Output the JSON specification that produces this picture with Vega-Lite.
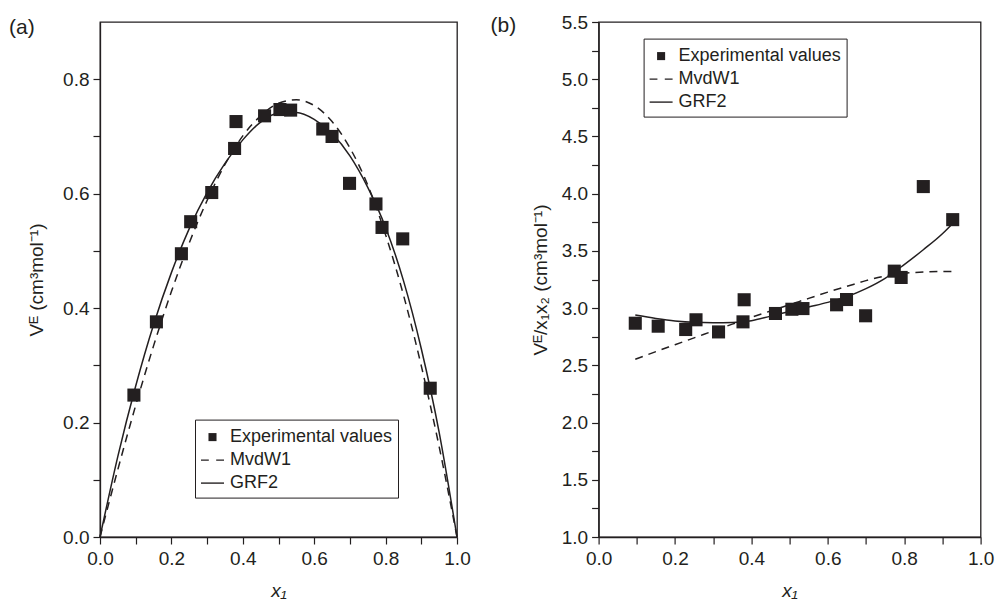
{
  "$schema": "https://vega.github.io/schema/vega-lite/v6.json",
  "background": "white",
  "padding": {"left": 8, "top": 12, "right": 5, "bottom": 0},
  "spacing": 141.6,
  "bounds": "flush",
  "config": {
    "font": "Liberation Sans",
    "view": {"stroke": "#231f20", "strokeWidth": 1.3},
    "axis": {
      "grid": false,
      "domainColor": "#231f20",
      "domainWidth": 1.3,
      "tickColor": "#231f20",
      "tickWidth": 1.2,
      "tickSize": 7,
      "labelColor": "#231f20",
      "titleColor": "#231f20",
      "labelFont": "Liberation Sans",
      "titleFont": "Liberation Sans",
      "labelFontSize": 19,
      "titleFontSize": 19,
      "titleFontWeight": "normal",
      "labelPadding": 4,
      "labelFlush": false,
      "labelOverlap": false
    },
    "title": {"font": "Liberation Sans", "fontSize": 21, "fontWeight": "normal", "color": "#231f20"}
  },
  "datasets": {
    "a": [
      {"x": 0.095, "y": 0.248, "series": "Experimental values"},
      {"x": 0.158, "y": 0.376, "series": "Experimental values"},
      {"x": 0.228, "y": 0.495, "series": "Experimental values"},
      {"x": 0.254, "y": 0.551, "series": "Experimental values"},
      {"x": 0.313, "y": 0.602, "series": "Experimental values"},
      {"x": 0.377, "y": 0.679, "series": "Experimental values"},
      {"x": 0.381, "y": 0.726, "series": "Experimental values"},
      {"x": 0.461, "y": 0.736, "series": "Experimental values"},
      {"x": 0.504, "y": 0.747, "series": "Experimental values"},
      {"x": 0.534, "y": 0.746, "series": "Experimental values"},
      {"x": 0.624, "y": 0.713, "series": "Experimental values"},
      {"x": 0.650, "y": 0.700, "series": "Experimental values"},
      {"x": 0.699, "y": 0.618, "series": "Experimental values"},
      {"x": 0.773, "y": 0.582, "series": "Experimental values"},
      {"x": 0.790, "y": 0.541, "series": "Experimental values"},
      {"x": 0.848, "y": 0.521, "series": "Experimental values"},
      {"x": 0.925, "y": 0.260, "series": "Experimental values"},
      {"x": 0.0, "y": 0.0, "series": "MvdW1"},
      {"x": 0.05, "y": 0.118, "series": "MvdW1"},
      {"x": 0.1, "y": 0.230, "series": "MvdW1"},
      {"x": 0.15, "y": 0.334, "series": "MvdW1"},
      {"x": 0.2, "y": 0.429, "series": "MvdW1"},
      {"x": 0.25, "y": 0.514, "series": "MvdW1"},
      {"x": 0.3, "y": 0.588, "series": "MvdW1"},
      {"x": 0.35, "y": 0.651, "series": "MvdW1"},
      {"x": 0.4, "y": 0.701, "series": "MvdW1"},
      {"x": 0.45, "y": 0.736, "series": "MvdW1"},
      {"x": 0.5, "y": 0.758, "series": "MvdW1"},
      {"x": 0.55, "y": 0.764, "series": "MvdW1"},
      {"x": 0.6, "y": 0.754, "series": "MvdW1"},
      {"x": 0.65, "y": 0.726, "series": "MvdW1"},
      {"x": 0.7, "y": 0.680, "series": "MvdW1"},
      {"x": 0.75, "y": 0.615, "series": "MvdW1"},
      {"x": 0.8, "y": 0.528, "series": "MvdW1"},
      {"x": 0.85, "y": 0.423, "series": "MvdW1"},
      {"x": 0.9, "y": 0.299, "series": "MvdW1"},
      {"x": 0.95, "y": 0.158, "series": "MvdW1"},
      {"x": 1.0, "y": 0.0, "series": "MvdW1"},
      {"x": 0.0, "y": 0.0, "series": "GRF2"},
      {"x": 0.05, "y": 0.141, "series": "GRF2"},
      {"x": 0.1, "y": 0.264, "series": "GRF2"},
      {"x": 0.15, "y": 0.371, "series": "GRF2"},
      {"x": 0.2, "y": 0.462, "series": "GRF2"},
      {"x": 0.25, "y": 0.539, "series": "GRF2"},
      {"x": 0.3, "y": 0.602, "series": "GRF2"},
      {"x": 0.35, "y": 0.653, "series": "GRF2"},
      {"x": 0.4, "y": 0.694, "series": "GRF2"},
      {"x": 0.45, "y": 0.725, "series": "GRF2"},
      {"x": 0.5, "y": 0.741, "series": "GRF2"},
      {"x": 0.55, "y": 0.742, "series": "GRF2"},
      {"x": 0.6, "y": 0.730, "series": "GRF2"},
      {"x": 0.65, "y": 0.705, "series": "GRF2"},
      {"x": 0.7, "y": 0.666, "series": "GRF2"},
      {"x": 0.75, "y": 0.611, "series": "GRF2"},
      {"x": 0.8, "y": 0.541, "series": "GRF2"},
      {"x": 0.85, "y": 0.448, "series": "GRF2"},
      {"x": 0.9, "y": 0.329, "series": "GRF2"},
      {"x": 0.95, "y": 0.183, "series": "GRF2"},
      {"x": 1.0, "y": 0.0, "series": "GRF2"}
    ],
    "b": [
      {"x": 0.096, "y": 2.868, "series": "Experimental values"},
      {"x": 0.156, "y": 2.842, "series": "Experimental values"},
      {"x": 0.228, "y": 2.813, "series": "Experimental values"},
      {"x": 0.255, "y": 2.898, "series": "Experimental values"},
      {"x": 0.314, "y": 2.792, "series": "Experimental values"},
      {"x": 0.381, "y": 3.073, "series": "Experimental values"},
      {"x": 0.378, "y": 2.880, "series": "Experimental values"},
      {"x": 0.463, "y": 2.953, "series": "Experimental values"},
      {"x": 0.506, "y": 2.990, "series": "Experimental values"},
      {"x": 0.535, "y": 2.996, "series": "Experimental values"},
      {"x": 0.623, "y": 3.029, "series": "Experimental values"},
      {"x": 0.649, "y": 3.075, "series": "Experimental values"},
      {"x": 0.699, "y": 2.933, "series": "Experimental values"},
      {"x": 0.774, "y": 3.323, "series": "Experimental values"},
      {"x": 0.792, "y": 3.268, "series": "Experimental values"},
      {"x": 0.850, "y": 4.062, "series": "Experimental values"},
      {"x": 0.927, "y": 3.773, "series": "Experimental values"},
      {"x": 0.096, "y": 2.553, "series": "MvdW1"},
      {"x": 0.15, "y": 2.62, "series": "MvdW1"},
      {"x": 0.2, "y": 2.68, "series": "MvdW1"},
      {"x": 0.25, "y": 2.74, "series": "MvdW1"},
      {"x": 0.3, "y": 2.80, "series": "MvdW1"},
      {"x": 0.35, "y": 2.86, "series": "MvdW1"},
      {"x": 0.4, "y": 2.92, "series": "MvdW1"},
      {"x": 0.45, "y": 2.975, "series": "MvdW1"},
      {"x": 0.5, "y": 3.03, "series": "MvdW1"},
      {"x": 0.55, "y": 3.085, "series": "MvdW1"},
      {"x": 0.6, "y": 3.14, "series": "MvdW1"},
      {"x": 0.65, "y": 3.19, "series": "MvdW1"},
      {"x": 0.7, "y": 3.24, "series": "MvdW1"},
      {"x": 0.75, "y": 3.28, "series": "MvdW1"},
      {"x": 0.8, "y": 3.305, "series": "MvdW1"},
      {"x": 0.85, "y": 3.315, "series": "MvdW1"},
      {"x": 0.9, "y": 3.32, "series": "MvdW1"},
      {"x": 0.927, "y": 3.32, "series": "MvdW1"},
      {"x": 0.096, "y": 2.94, "series": "GRF2"},
      {"x": 0.15, "y": 2.91, "series": "GRF2"},
      {"x": 0.2, "y": 2.888, "series": "GRF2"},
      {"x": 0.25, "y": 2.876, "series": "GRF2"},
      {"x": 0.3, "y": 2.873, "series": "GRF2"},
      {"x": 0.35, "y": 2.875, "series": "GRF2"},
      {"x": 0.4, "y": 2.89, "series": "GRF2"},
      {"x": 0.45, "y": 2.93, "series": "GRF2"},
      {"x": 0.5, "y": 2.97, "series": "GRF2"},
      {"x": 0.55, "y": 3.01, "series": "GRF2"},
      {"x": 0.6, "y": 3.05, "series": "GRF2"},
      {"x": 0.65, "y": 3.10, "series": "GRF2"},
      {"x": 0.7, "y": 3.17, "series": "GRF2"},
      {"x": 0.75, "y": 3.26, "series": "GRF2"},
      {"x": 0.8, "y": 3.38, "series": "GRF2"},
      {"x": 0.85, "y": 3.51, "series": "GRF2"},
      {"x": 0.9, "y": 3.65, "series": "GRF2"},
      {"x": 0.927, "y": 3.74, "series": "GRF2"}
    ]
  },
  "hconcat": [
    {
      "width": 357,
      "height": 515,
      "title": {"text": "(a)", "anchor": "start", "frame": "group", "dx": -91, "dy": 33, "offset": 0, "baseline": "alphabetic"},
      "data": {"name": "a"},
      "encoding": {
        "x": {
          "field": "x", "type": "quantitative",
          "scale": {"domain": [0, 1], "nice": false, "zero": false},
          "axis": {
            "title": "x₁", "titleFontStyle": "italic", "titlePadding": 13, "labelPadding": 5,
            "values": [0, 0.1, 0.2, 0.3, 0.4, 0.5, 0.6, 0.7, 0.8, 0.9, 1.0],
            "labelExpr": "round(datum.value*10) % 2 == 0 ? format(datum.value, '.1f') : ''"
          }
        },
        "y": {
          "field": "y", "type": "quantitative",
          "scale": {"domain": [0, 0.9], "nice": false, "zero": false},
          "axis": {
            "title": "Vᴱ (cm³mol⁻¹)", "titlePadding": 16,
            "values": [0, 0.1, 0.2, 0.3, 0.4, 0.5, 0.6, 0.7, 0.8],
            "labelExpr": "round(datum.value*10) % 2 == 0 ? format(datum.value, '.1f') : ''"
          }
        }
      },
      "layer": [
        {
          "transform": [{"filter": "datum.series == 'MvdW1'"}],
          "mark": {"type": "line", "interpolate": "monotone", "strokeDash": [8, 6], "strokeWidth": 1.5, "color": "#231f20"}
        },
        {
          "transform": [{"filter": "datum.series == 'GRF2'"}],
          "mark": {"type": "line", "interpolate": "monotone", "strokeWidth": 1.5, "color": "#231f20"}
        },
        {
          "transform": [{"filter": "datum.series == 'Experimental values'"}],
          "mark": {"type": "point", "filled": true, "size": 1395, "color": "#231f20", "opacity": 1},
          "encoding": {
            "shape": {
              "field": "series", "type": "nominal",
              "scale": {
                "domain": ["Experimental values", "MvdW1", "GRF2"],
                "range": ["M-0.35,-0.35H0.35V0.35H-0.35Z", "M-1,-0.06H-0.32V0.06H-1ZM0.32,-0.06H1V0.06H0.32Z", "M-1,-0.06H1V0.06H-1Z"]
              },
              "legend": {
                "orient": "none", "legendX": 95, "legendY": 397.6, "title": null,
                "strokeColor": "#231f20", "padding": 5, "rowPadding": 1,
                "labelFontSize": 18, "labelFont": "Liberation Sans", "labelColor": "#231f20", "labelLimit": 400,
                "labelOffset": 5, "symbolSize": 529, "symbolFillColor": "#231f20",
                "encode": {"symbols": {"update": {"fill": {"value": "#231f20"}, "size": {"value": 529}, "opacity": {"value": 1}}}}
              }
            }
          }
        }
      ]
    },
    {
      "width": 382,
      "height": 515,
      "title": {"text": "(b)", "anchor": "start", "frame": "group", "dx": -108, "dy": 40, "offset": 0, "baseline": "alphabetic"},
      "data": {"name": "b"},
      "encoding": {
        "x": {
          "field": "x", "type": "quantitative",
          "scale": {"domain": [0, 1], "nice": false, "zero": false},
          "axis": {
            "title": "x₁", "titleFontStyle": "italic", "titlePadding": 13, "labelPadding": 5,
            "values": [0, 0.1, 0.2, 0.3, 0.4, 0.5, 0.6, 0.7, 0.8, 0.9, 1.0],
            "labelExpr": "round(datum.value*10) % 2 == 0 ? format(datum.value, '.1f') : ''"
          }
        },
        "y": {
          "field": "y", "type": "quantitative",
          "scale": {"domain": [1, 5.5], "nice": false, "zero": false},
          "axis": {
            "title": "Vᴱ/x₁x₂ (cm³mol⁻¹)", "titlePadding": 11,
            "values": [1, 1.25, 1.5, 1.75, 2, 2.25, 2.5, 2.75, 3, 3.25, 3.5, 3.75, 4, 4.25, 4.5, 4.75, 5, 5.25, 5.5],
            "labelExpr": "round(datum.value*4) % 2 == 0 ? format(datum.value, '.1f') : ''"
          }
        }
      },
      "layer": [
        {
          "transform": [{"filter": "datum.series == 'MvdW1'"}],
          "mark": {"type": "line", "interpolate": "monotone", "strokeDash": [8, 6], "strokeWidth": 1.5, "color": "#231f20"}
        },
        {
          "transform": [{"filter": "datum.series == 'GRF2'"}],
          "mark": {"type": "line", "interpolate": "monotone", "strokeWidth": 1.5, "color": "#231f20"}
        },
        {
          "transform": [{"filter": "datum.series == 'Experimental values'"}],
          "mark": {"type": "point", "filled": true, "size": 1395, "color": "#231f20", "opacity": 1},
          "encoding": {
            "shape": {
              "field": "series", "type": "nominal",
              "scale": {
                "domain": ["Experimental values", "MvdW1", "GRF2"],
                "range": ["M-0.35,-0.35H0.35V0.35H-0.35Z", "M-1,-0.06H-0.32V0.06H-1ZM0.32,-0.06H1V0.06H0.32Z", "M-1,-0.06H1V0.06H-1Z"]
              },
              "legend": {
                "orient": "none", "legendX": 45, "legendY": 16.6, "title": null,
                "strokeColor": "#231f20", "padding": 5, "rowPadding": 1,
                "labelFontSize": 18, "labelFont": "Liberation Sans", "labelColor": "#231f20", "labelLimit": 400,
                "labelOffset": 5, "symbolSize": 529, "symbolFillColor": "#231f20",
                "encode": {"symbols": {"update": {"fill": {"value": "#231f20"}, "size": {"value": 529}, "opacity": {"value": 1}}}}
              }
            }
          }
        }
      ]
    }
  ],
  "resolve": {"scale": {"shape": "independent", "x": "independent", "y": "independent"}, "legend": {"shape": "independent"}}
}
